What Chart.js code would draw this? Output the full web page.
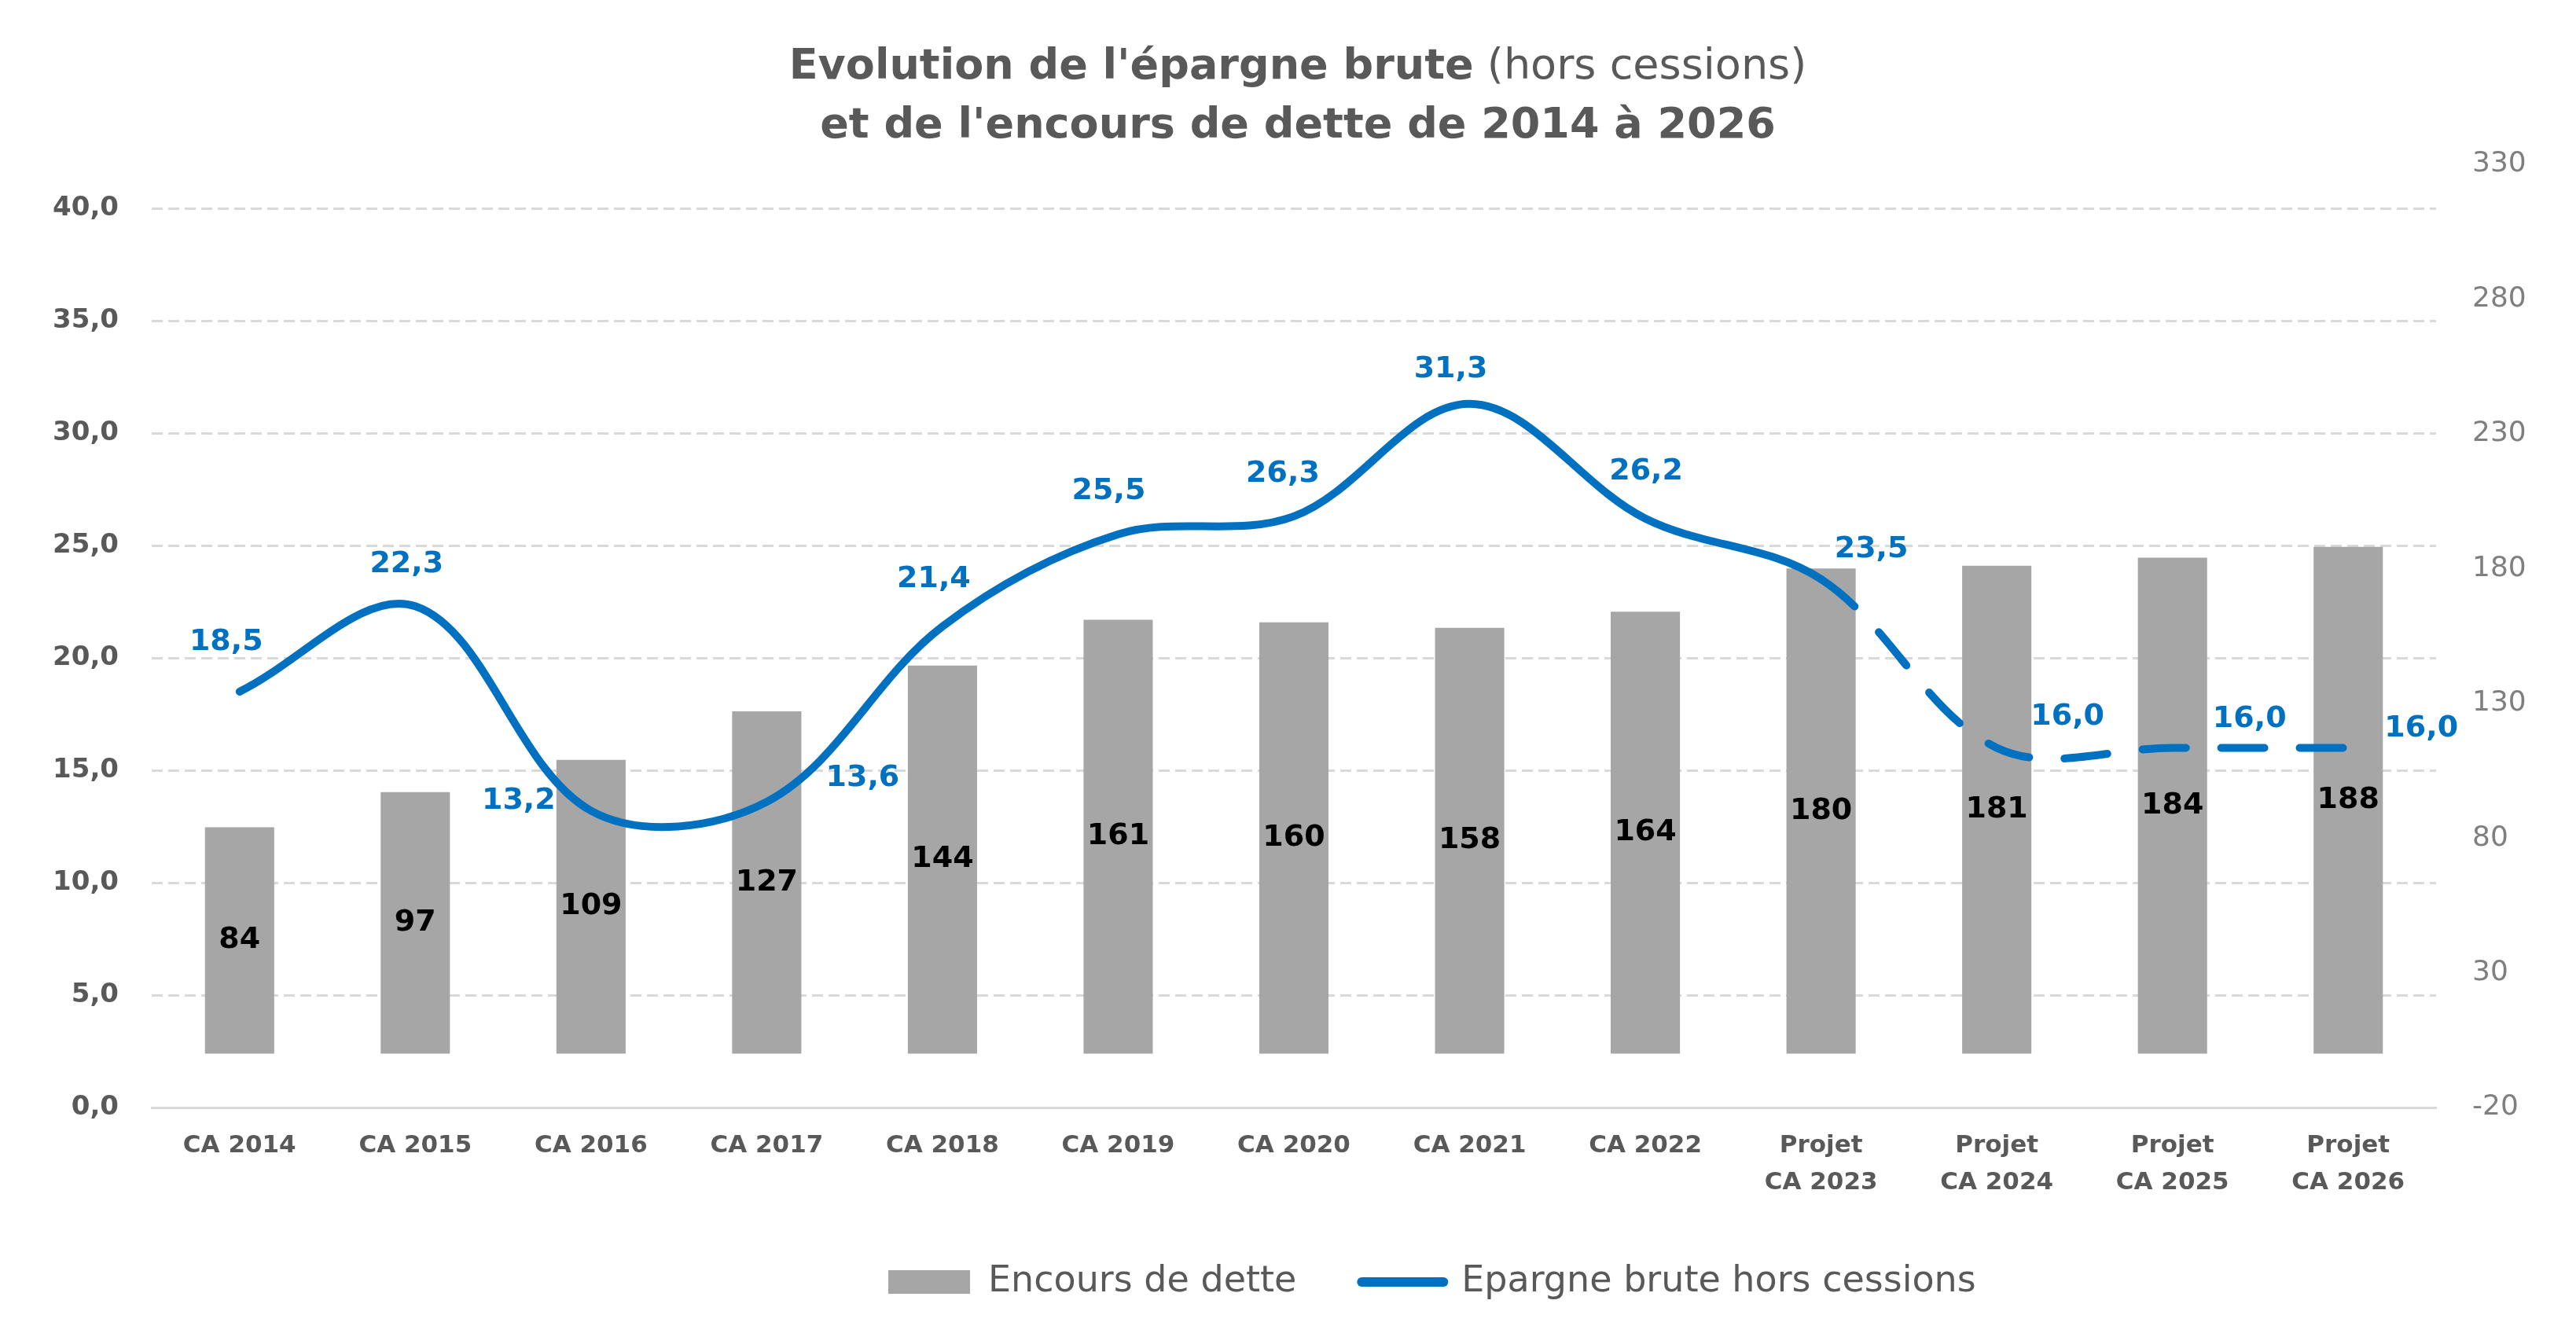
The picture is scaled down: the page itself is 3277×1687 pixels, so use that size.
<!DOCTYPE html>
<html lang="fr">
<head>
<meta charset="utf-8">
<title>Evolution de l'épargne brute et de l'encours de dette de 2014 à 2026</title>
<script src="https://cdn.jsdelivr.net/npm/chart.js@4.4.1/dist/chart.umd.min.js"></script>
<style>
  html, body { margin: 0; padding: 0; background: #ffffff; }
  #wrap { position: relative; width: 3277px; height: 1687px; }
</style>
</head>
<body>
<div id="wrap"><canvas id="chart"></canvas></div>
<script>
/* Values */
const categories = [
    'CA 2014', 'CA 2015', 'CA 2016', 'CA 2017', 'CA 2018', 'CA 2019', 'CA 2020',
    'CA 2021', 'CA 2022', ['Projet', 'CA 2023'], ['Projet', 'CA 2024'],
    ['Projet', 'CA 2025'], ['Projet', 'CA 2026']
];
const encoursDette = [84, 97, 109, 127, 144, 161, 160, 158, 164, 180, 181, 184, 188];
const epargneBrute = [18.5, 22.3, 13.2, 13.6, 21.4, 25.5, 26.3, 31.3, 26.2, 23.5, 16.0, 16.0, 16.0];
const leftTicks = [0, 5, 10, 15, 20, 25, 30, 35, 40];
const rightTicks = [-20, 30, 80, 130, 180, 230, 280, 330];
const firstProjectIndex = 9; // line becomes dashed from "Projet CA 2023"

/* Label placement (pixels relative to each line point) */
const lineLabelOffsets = [
    [-17, -63], [-11, -53], [-92, -12], [122, -30], [-11, -60], [-12, -55], [-14, -54],
    [-24, -44], [1, -60], [64, -38], [90, -39], [98, -36], [93, -24]
];

const FONT = "'DejaVu Sans', sans-serif";
const BLUE = '#0070C0';
const GREY_BAR = '#A6A6A6';
const TEXT_GREY = '#595959';

const fmt1 = v => Number(v).toFixed(1).replace('.', ',');

/* Two-line title with mixed weights */
const titlePlugin = {
    id: 'mixedTitle',
    afterDraw(chart) {
        const ctx = chart.ctx;
        const cx = 1651;
        ctx.save();
        ctx.fillStyle = TEXT_GREY;
        ctx.textBaseline = 'alphabetic';
        ctx.textAlign = 'left';
        const boldPart = "Evolution de l'épargne brute";
        const normPart = ' (hors cessions)';
        ctx.font = 'bold 54px ' + FONT;
        const wb = ctx.measureText(boldPart).width;
        ctx.font = 'normal 54px ' + FONT;
        const wn = ctx.measureText(normPart).width;
        let x = cx - (wb + wn) / 2;
        ctx.font = 'bold 54px ' + FONT;
        ctx.fillText(boldPart, x, 100);
        ctx.font = 'normal 54px ' + FONT;
        ctx.fillText(normPart, x + wb, 100);
        ctx.font = 'bold 54px ' + FONT;
        ctx.textAlign = 'center';
        ctx.fillText("et de l'encours de dette de 2014 à 2026", cx, 175);
        ctx.restore();
    }
};

/* Value labels for bars (centered) and the line (offset) */
const valueLabels = {
    id: 'valueLabels',
    afterDatasetsDraw(chart) {
        const ctx = chart.ctx;
        ctx.save();
        ctx.textAlign = 'center';
        ctx.textBaseline = 'middle';
        ctx.font = 'bold 38px ' + FONT;

        ctx.fillStyle = '#000000';
        chart.getDatasetMeta(0).data.forEach((el, i) => {
            const p = el.getProps(['x', 'y', 'base'], true);
            ctx.fillText(String(encoursDette[i]), p.x, (p.y + p.base) / 2);
        });

        ctx.fillStyle = BLUE;
        chart.getDatasetMeta(1).data.forEach((el, i) => {
            const off = lineLabelOffsets[i];
            ctx.fillText(fmt1(epargneBrute[i]), el.x + off[0], el.y + off[1]);
        });
        ctx.restore();
    }
};

/* Move the legend row so it starts where the reference one does */
const legendStartX = 1130;
const legendShift = {
    id: 'legendShift',
    afterLayout(chart) {
        const lg = chart.legend;
        if (!lg || !lg.lineWidths) return;
        const pad = lg.options.labels.padding;
        const start = (lg.left + pad + lg.right - lg.lineWidths[0]) / 2;
        const shift = legendStartX - start;
        lg.left += shift;
        lg.right += shift;
    }
};

new Chart(document.getElementById('chart'), {
    type: 'bar',
    data: {
        labels: categories,
        datasets: [
            {
                type: 'bar',
                label: 'Encours de dette',
                data: encoursDette,
                yAxisID: 'y1',
                backgroundColor: GREY_BAR,
                barPercentage: 0.394,
                categoryPercentage: 1,
                order: 1
            },
            {
                type: 'line',
                label: 'Epargne brute hors cessions',
                data: epargneBrute,
                yAxisID: 'y',
                borderColor: BLUE,
                backgroundColor: BLUE,
                borderWidth: 10,
                borderCapStyle: 'round',
                borderJoinStyle: 'round',
                pointRadius: 0,
                tension: 0.35,
                fill: false,
                order: 0,
                segment: {
                    borderDash: c => c.p0DataIndex >= firstProjectIndex ? [55, 45] : undefined
                }
            }
        ]
    },
    options: {
        responsive: true,
        maintainAspectRatio: false,
        animation: false,
        devicePixelRatio: 1,
        layout: { padding: { top: 209, left: 0, right: 0, bottom: 23 } },
        scales: {
            x: {
                grid: { display: false, drawTicks: false },
                border: { display: true, color: '#D9D9D9', width: 3 },
                ticks: {
                    autoSkip: false,
                    maxRotation: 0,
                    padding: 26,
                    color: TEXT_GREY,
                    font: { family: FONT, size: 31, weight: 'bold', lineHeight: 1.5 }
                },
                afterFit: s => { s.height = 116; }
            },
            y: {
                position: 'left',
                min: 0,
                max: 41.96,
                afterBuildTicks: axis => { axis.ticks = leftTicks.map(v => ({ value: v })); },
                grid: { color: '#D9D9D9', lineWidth: 3, drawTicks: false },
                border: { display: false, dash: [14, 7] },
                ticks: {
                    padding: 42,
                    color: TEXT_GREY,
                    font: { family: FONT, size: 34, weight: 'bold' },
                    callback: v => fmt1(v)
                },
                afterFit: s => { s.width = 193; }
            },
            y1: {
                position: 'right',
                min: -20,
                max: 330,
                afterBuildTicks: axis => { axis.ticks = rightTicks.map(v => ({ value: v })); },
                grid: { display: false, drawTicks: false },
                border: { display: false },
                ticks: {
                    padding: 46,
                    color: '#7F7F7F',
                    font: { family: FONT, size: 36 },
                    callback: v => String(v)
                },
                afterFit: s => { s.width = 178; }
            }
        },
        plugins: {
            title: { display: false },
            tooltip: { enabled: false },
            legend: {
                position: 'bottom',
                labels: {
                    usePointStyle: true,
                    pointStyleWidth: 104,
                    boxHeight: 30,
                    padding: 83,
                    color: TEXT_GREY,
                    font: { family: FONT, size: 46 },
                    sort: (a, b) => a.datasetIndex - b.datasetIndex,
                    generateLabels: chart => Chart.defaults.plugins.legend.labels.generateLabels(chart).map(item => {
                        if (item.datasetIndex === 0) {
                            item.pointStyle = 'rect';
                            item.fillStyle = GREY_BAR;
                            item.lineWidth = 0;
                        } else {
                            item.pointStyle = 'line';
                            item.strokeStyle = BLUE;
                            item.lineWidth = 12;
                            item.lineCap = 'round';
                        }
                        return item;
                    })
                }
            }
        }
    },
    plugins: [titlePlugin, valueLabels, legendShift]
});
</script>
</body>
</html>
